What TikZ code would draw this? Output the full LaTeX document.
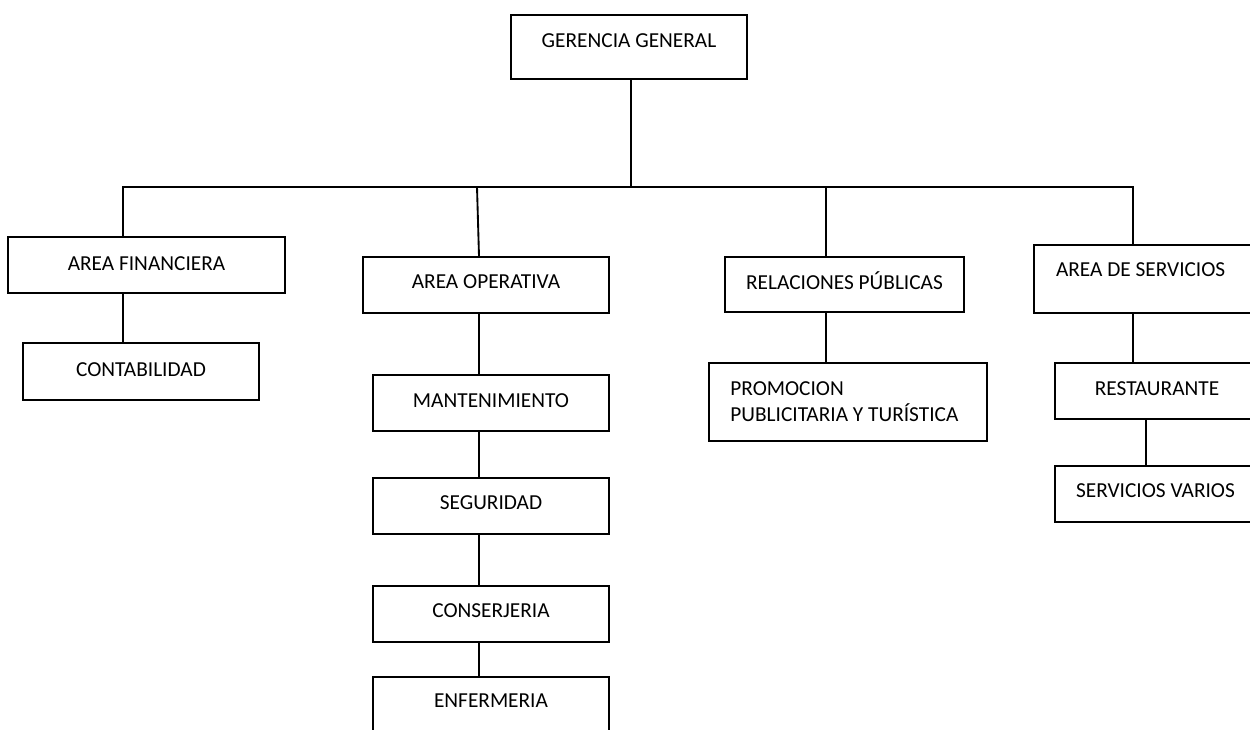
\documentclass[tikz,border=0pt]{standalone}
\usepackage{fontspec}
\setmainfont{Carlito}
\begin{document}
\begin{tikzpicture}[x=0.75pt,y=-0.75pt,
  box/.style={draw, line width=1.4pt, inner sep=0pt, font=\fontsize{16}{19.4}\selectfont},
  tx/.style={text height=10.3pt, text depth=#1},
  conn/.style={line width=1.4pt}]
\useasboundingbox (0,0) rectangle (1250,729);
\clip (0,0) rectangle (1250,729);
% boxes
\node[box, tx=9.3pt, minimum width=177pt, minimum height=48pt] (gg) at (629,47) {GERENCIA GENERAL};
\node[box, tx=2pt, minimum width=207.75pt, minimum height=42pt] (af) at (146.5,265) {AREA FINANCIERA};
\node[box, tx=3.5pt, minimum width=177pt, minimum height=42.75pt] (co) at (141,371.5) {CONTABILIDAD};
\node[box, tx=5pt, minimum width=184.5pt, minimum height=42pt] (ao) at (486,285) {AREA OPERATIVA};
\node[box, tx=4pt, minimum width=177pt, minimum height=42pt] (ma) at (491,403) {MANTENIMIENTO};
\node[box, tx=4.5pt, minimum width=177pt, minimum height=42pt] (se) at (491,506) {SEGURIDAD};
\node[box, tx=5.2pt, minimum width=177pt, minimum height=42pt] (cj) at (491,614) {CONSERJERIA};
\node[box, tx=6pt, minimum width=177pt, minimum height=42pt] (en) at (491,705) {ENFERMERIA};
\node[box, tx=3.5pt, minimum width=179.25pt, minimum height=41.25pt] (rp) at (844.5,284.5) {RELACIONES PÚBLICAS};
\node[box, align=flush left, text width=176.5pt, inner xsep=16pt, minimum height=58.5pt] (pr) at (848,402) {PROMOCION\\PUBLICITARIA Y TURÍSTICA};
\node[box, tx=14.2pt, align=flush left, text width=138pt, inner xsep=16.5pt, minimum height=51pt] (as) at (1148,279) {AREA DE SERVICIOS};
\node[box, tx=3.5pt, minimum width=153pt, minimum height=42pt] (re) at (1157,391) {RESTAURANTE};
\node[box, tx=5.2pt, minimum width=150.75pt, minimum height=42pt] (sv) at (1155.5,494) {SERVICIOS VARIOS};
% connector points
\coordinate (bT) at (631,187);
\coordinate (bL) at (123,187);
\coordinate (bR) at (1133,187);
\coordinate (bO) at (477,187);
\coordinate (bP) at (826,187);
\coordinate (vO) at (479,313);
\coordinate (vR) at (1146,420);
% connectors
\draw[conn] (gg.south -| bT) -- (bT);
\draw[conn] (bL |- af.north) -- (bL) -- (bR) -- (bR |- as.north);
\draw[conn] (bO) -- ([xshift=-5.25pt]ao.north);
\draw[conn] (bP) -- (bP |- rp.north);
\draw[conn] (bL |- af.south) -- (bL |- co.north);
\draw[conn] (vO |- ao.south) -- (vO |- ma.north);
\draw[conn] (vO |- ma.south) -- (vO |- se.north);
\draw[conn] (vO |- se.south) -- (vO |- cj.north);
\draw[conn] (vO |- cj.south) -- (vO |- en.north);
\draw[conn] (bP |- rp.south) -- (bP |- pr.north);
\draw[conn] (bR |- as.south) -- (bR |- re.north);
\draw[conn] (vR |- re.south) -- (vR |- sv.north);
\end{tikzpicture}
\end{document}
